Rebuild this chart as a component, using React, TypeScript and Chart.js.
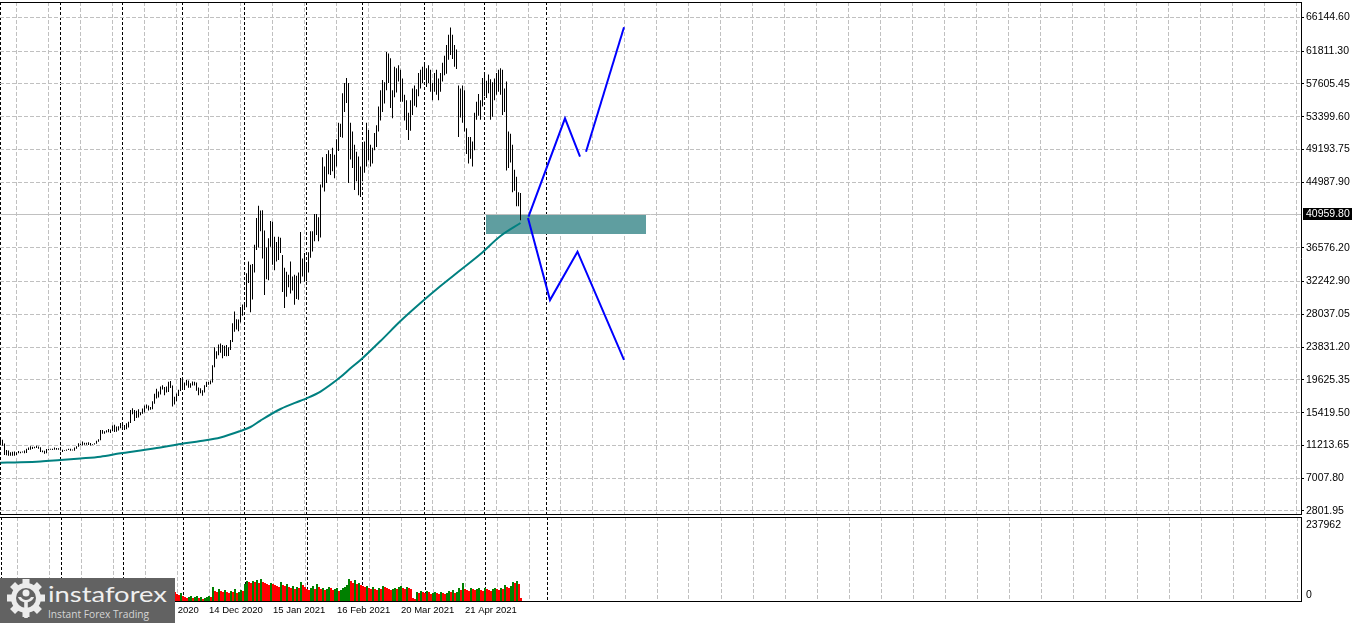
import React, { useEffect, useRef } from "react";
import { Chart, registerables } from "chart.js";

Chart.register(...registerables);

// ---------- DATA (BTC daily bars from 1 Sep 2020, index 0 = 1 Sep 2020) ----------
const barHigh = [
  // Sep 2020
  12067, 11950, 11450, 10630, 10570, 10350, 10400, 10440, 10350, 10500,
  10400, 10450, 10580, 10800, 10940, 11100, 11050, 11050, 11170, 11080,
  10990, 10580, 10530, 10770, 10760, 10790, 10800, 10950, 10880, 10840,
  // Oct 2020
  10950, 10650, 10600, 10690, 10800, 10800, 10680, 10950, 11100, 11490,
  11440, 11730, 11550, 11550, 11620, 11540, 11400, 11500, 11800, 12000,
  13200, 13200, 13030, 13150, 13330, 13250, 13780, 13860, 13630, 13670, 14100,
  // Nov 2020
  13890, 13830, 14070, 14250, 15750, 15970, 15770, 15670, 15850, 15480,
  15960, 16340, 16480, 16330, 16150, 16880, 17860, 18480, 18120, 18790,
  18950, 18700, 18780, 19400, 19470, 18900, 17450, 17880, 18350, 19860,
  // Dec 2020
  19920, 19300, 19600, 19550, 19180, 19420, 19400, 19300, 18640, 18560,
  18280, 18950, 19400, 19350, 19550, 21500, 23800, 23300, 24170, 24300,
  24100, 24000, 24100, 23800, 24750, 26880, 28400, 27400, 27380, 28990, 29300,
  // Jan 2021
  29600, 33300, 34800, 34400, 34500, 36950, 40400, 41950, 41350, 41400,
  38800, 36600, 37800, 40000, 39900, 38000, 37300, 38000, 37850, 35650,
  34000, 33500, 33100, 34800, 32900, 33100, 33000, 33400, 38600, 35200, 35900,
  // Feb 2021
  34700, 36000, 38700, 38700, 40900, 40900, 40500, 44700, 48200, 47000,
  48600, 49100, 48600, 49400, 48500, 50500, 52600, 52500, 56400, 57700,
  58350, 57700, 52600, 51500, 49800, 48900, 48300, 47000,
  // Mar 2021
  49800, 50200, 52600, 51700, 49800, 49400, 51300, 52300, 54700, 56800,
  58100, 57800, 61700, 61500, 60900, 56800, 59800, 59600, 60000, 59400,
  58300, 56200, 55500, 53900, 55500, 57000, 57400, 56900, 59000, 59400, 59800,
  // Apr 2021
  60200, 59600, 60000, 59400, 57700, 59000, 59400, 58300, 59000, 60300,
  61200, 62600, 63900, 64850, 63900, 62600, 62000, 57400, 57000, 57400,
  56800, 51900, 50800, 50800, 50200, 53900, 55300, 56300, 55500, 58350,
  // May 2021
  59000, 58000, 58800, 58200, 57800, 58300, 59000, 59400, 59600, 59400,
  57000, 57900, 51500, 51200, 49800, 46600, 45700, 43700, 43600,
];

const barLow = [
  // Sep 2020
  11530, 11160, 10000, 9950, 9880, 9880, 9880, 9880, 10000, 10200,
  10200, 10300, 10200, 10250, 10620, 10660, 10750, 10850, 10890, 10800,
  10370, 10350, 10140, 10200, 10590, 10650, 10630, 10660, 10650, 10650,
  // Oct 2020
  10560, 10370, 10500, 10530, 10640, 10540, 10550, 10530, 10800, 11050,
  11280, 11220, 11300, 11300, 11270, 11220, 11300, 11340, 11420, 11680,
  11890, 12700, 12720, 12880, 12900, 12800, 13050, 12950, 12980, 13130, 13420,
  // Nov 2020
  13620, 13200, 13300, 13530, 14080, 15200, 14350, 14720, 14800, 15080,
  15280, 15430, 15960, 15700, 15800, 15870, 16560, 17230, 17370, 17740,
  18400, 17650, 18000, 18080, 18570, 16200, 16450, 16880, 17550, 18200,
  // Dec 2020
  18330, 18330, 18900, 18600, 18600, 18900, 18910, 18230, 17650, 17900,
  17600, 18000, 18700, 19000, 19050, 19300, 21250, 22350, 22800, 23100,
  22400, 22700, 22650, 22700, 23450, 24500, 25800, 26100, 25850, 27000, 27850,
  // Jan 2021
  28800, 28950, 32050, 28300, 29950, 33400, 36300, 36600, 38700, 35200,
  30500, 32550, 32400, 36700, 34400, 33700, 34800, 35000, 35900, 30900,
  28850, 30300, 31500, 30700, 31100, 29250, 30000, 29900, 32000, 32900, 32200,
  // Feb 2021
  32300, 33400, 35300, 36100, 37400, 38200, 37400, 37900, 44300, 43800,
  44900, 46000, 45900, 46400, 45500, 47000, 49000, 50800, 50700, 54000,
  55150, 44900, 47900, 46800, 44000, 45100, 43300, 43100,
  // Mar 2021
  45100, 46200, 47000, 47800, 47000, 47400, 49100, 49500, 51500, 52900,
  54000, 55100, 56800, 57700, 54500, 53200, 55900, 56500, 57900, 55300,
  55300, 52900, 51700, 50400, 51600, 53600, 54800, 54600, 56000, 57000, 57700,
  // Apr 2021
  58300, 57200, 57700, 56600, 55500, 56600, 56200, 55500, 56600, 57900,
  58700, 58900, 60700, 61300, 60800, 59800, 59500, 50800, 53300, 52600,
  51500, 48600, 47400, 48000, 47000, 49100, 53000, 53500, 53000, 54700,
  // May 2021
  56000, 55800, 56400, 53000, 53400, 55500, 56200, 56600, 56200, 53600,
  54000, 46500, 46800, 47500, 43700, 43900, 41900, 41900, 40100,
];

const volumes = [
  // Sep 2020
  28000, 26000, 35000, 42000, 30000, 25000, 20000, 24000, 19000, 17000,
  16000, 12000, 14000, 18000, 17000, 19000, 18000, 15000, 13000, 14000,
  22000, 18000, 17000, 19000, 15000, 11000, 12000, 16000, 15000, 14000,
  // Oct 2020
  20000, 22000, 12000, 11000, 14000, 15000, 14000, 17000, 19000, 15000,
  11000, 16000, 14000, 13000, 15000, 14000, 10000, 11000, 15000, 18000,
  35000, 30000, 22000, 16000, 17000, 19000, 24000, 26000, 20000, 18000, 19000,
  // Nov 2020
  14000, 20000, 21000, 22000, 33000, 34000, 27000, 18000, 25000, 19000,
  20000, 22000, 18000, 13000, 15000, 20000, 28000, 34000, 28000, 24000,
  20000, 22000, 24000, 28000, 26000, 40000, 25500, 19800, 17000, 22700,
  // Dec 2020
  14200, 11300, 8500, 11300, 14200, 8500, 11300, 14200, 8500, 11300,
  5700, 8500, 11300, 14200, 11300, 39600, 28300, 25500, 34000, 28300,
  25500, 31100, 25500, 22600, 28300, 25500, 34000, 22600, 25500, 31100, 28300,
  // Jan 2021
  48100, 56600, 53800, 50900, 56600, 53800, 59400, 50900, 62300, 53800,
  50900, 48100, 45300, 50900, 48100, 45300, 42500, 39600, 53800, 45300,
  42500, 48100, 39600, 36800, 42500, 34000, 39600, 36800, 53800, 45300, 39600,
  // Feb 2021
  34000, 31100, 36800, 42500, 34000, 48100, 39600, 34000, 36800, 31100,
  34000, 39600, 36800, 31100, 34000, 36800, 28300, 31100, 36800, 39600,
  45300, 62300, 56600, 50900, 59400, 48100, 50900, 45300,
  // Mar 2021
  42500, 39600, 42500, 36800, 34000, 39600, 34000, 31100, 36800, 34000,
  42500, 39600, 36800, 34000, 31100, 34000, 36800, 34000, 39600, 42500,
  36800, 34000, 39600, 36800, 34000, 8500, 5700, 25500, 22600, 28300, 25500,
  // Apr 2021
  22600, 28300, 25500, 19800, 22600, 25500, 22600, 19800, 25500, 22600,
  19800, 22600, 28300, 25500, 31100, 22600, 25500, 36800, 31100, 50900,
  34000, 31100, 28300, 36800, 34000, 31100, 34000, 36800, 31100, 28300,
  // May 2021
  36800, 34000, 31100, 28300, 34000, 36800, 34000, 31100, 36800, 34000,
  45300, 39600, 36800, 42500, 53800, 50900, 56600, 48100, 8500,
];

// Moving average (read at sample bars)
const maIndex = [0, 10, 20, 30, 40, 50, 60, 70, 80, 90, 100, 110, 120, 125, 130, 140, 150, 153, 160, 170, 175, 180, 190, 200, 210, 220, 230, 240, 250, 260];
const maValue = [9000, 9050, 9150, 9345, 9540, 9770, 10200, 10560, 10950, 11400, 11780, 12230, 13070, 13580, 14410, 15890, 16950, 17260, 18130, 19990, 21110, 22170, 24610, 27180, 29490, 31670, 33720, 35780, 38090, 39750];

// Projection lines (bar index, price)
const upLeg = [{ x: 264, y: 40560 }, { x: 282.25, y: 53180 }, { x: 289.75, y: 48260 }];
const upLeg2 = [{ x: 292.75, y: 48900 }, { x: 311.75, y: 64860 }];
const downLeg = [{ x: 263.75, y: 40390 }, { x: 274.75, y: 29870 }, { x: 288.5, y: 36070 }, { x: 311.75, y: 22180 }];

// Support zone: [startIndex, endIndex, topPrice, bottomPrice]
const zoneBox = [242.75, 322.75, 40780, 38340];

const priceTicks = [66144.6, 61811.3, 57605.45, 53399.6, 49193.75, 44987.9, 36576.2, 32242.9, 28037.05, 23831.2, 19625.35, 15419.5, 11213.65, 7007.8, 2801.95];
const lastPrice = 40959.8;
const volumeMax = 237962;

const monthStarts = [0, 30, 61, 91, 122, 153, 181, 212, 242, 273];
const dateTickIndex = [8, 40, 72, 104, 136, 168, 200, 232];
const dateTickLabels = ["9 Sep 2020", "11 Oct 2020", "12 Nov 2020", "14 Dec 2020", "15 Jan 2021", "16 Feb 2021", "20 Mar 2021", "21 Apr 2021"];

// ---------- layout constants ----------
const W = 1353;
const PRICE_MIN = 2417;
const PRICE_MAX = 68107;
const X_MIN = -0.25;
const X_MAX = 650.25;
const AXIS_W = 52;
const gridIndex = Array.from({ length: 41 }, (_, k) => 8 + 16 * k);
const FONT = { family: "'Liberation Sans', Arial, sans-serif", size: 10.5 };
const DATE_FONT = { family: "'Liberation Sans', Arial, sans-serif", size: 9.5 };
const GRID = "#c0c0c0";

const fixedX = (ids: number[]) => (s: any) => {
  s.ticks = ids.map((v) => ({ value: v }));
};

const mainDecor = {
  id: "mainDecor",
  beforeDatasetsDraw(chart: any) {
    const { ctx, chartArea: a, scales } = chart;
    const xs = scales.x, ys = scales.y;
    ctx.save();
    const py = Math.round(ys.getPixelForValue(lastPrice)) + 0.5;
    ctx.strokeStyle = GRID;
    ctx.lineWidth = 1;
    ctx.beginPath();
    ctx.moveTo(a.left, py);
    ctx.lineTo(a.right, py);
    ctx.stroke();
    const x1 = Math.round(xs.getPixelForValue(zoneBox[0]));
    const x2 = Math.round(xs.getPixelForValue(zoneBox[1]));
    const y1 = Math.round(ys.getPixelForValue(zoneBox[2]));
    const y2 = Math.round(ys.getPixelForValue(zoneBox[3]));
    ctx.fillStyle = "#5f9ea0";
    ctx.fillRect(x1, y1, x2 - x1, y2 - y1);
    ctx.restore();
  },
  afterDraw(chart: any) {
    const { ctx, chartArea: a, scales } = chart;
    ctx.save();
    ctx.fillStyle = "#000";
    ctx.fillRect(a.left, a.top, a.right - a.left + 1, 1);
    ctx.fillRect(a.left, a.bottom, a.right - a.left + 1, 1);
    const py = Math.round(scales.y.getPixelForValue(lastPrice));
    ctx.fillRect(a.right + 2, py - 6, W - a.right - 3, 12);
    ctx.fillStyle = "#fff";
    ctx.font = `${FONT.size}px ${FONT.family}`;
    ctx.textBaseline = "middle";
    ctx.textAlign = "left";
    ctx.fillText(lastPrice.toFixed(2), a.right + 5, py);
    ctx.restore();
  },
};

const volDecor = {
  id: "volDecor",
  afterDraw(chart: any) {
    const { ctx, chartArea: a, scales } = chart;
    ctx.save();
    ctx.fillStyle = "#000";
    ctx.fillRect(a.left, a.top, a.right - a.left + 1, 1);
    ctx.fillRect(a.left, a.bottom, a.right - a.left + 1, 1);
    ctx.font = `${FONT.size}px ${FONT.family}`;
    ctx.textBaseline = "middle";
    ctx.textAlign = "left";
    ctx.fillText(String(volumeMax), a.right + 5, scales.y.getPixelForValue(volumeMax) + 8);
    ctx.fillText("0", a.right + 5, scales.y.getPixelForValue(0) - 6);
    ctx.restore();
  },
};

function sepAxis(min: number, max: number) {
  return {
    type: "linear",
    position: "bottom",
    min,
    max,
    offset: false,
    ticks: { display: false },
    grid: { color: "#000", drawTicks: false, offset: false, lineWidth: 1 },
    border: { display: false, dash: [3, 2] },
    afterBuildTicks: fixedX(monthStarts),
  };
}

function mainConfig(): any {
  return {
    type: "bar",
    data: {
      datasets: [
        { type: "line", label: "up", data: upLeg, borderColor: "#0000ff", borderWidth: 2, pointRadius: 0, order: 1 },
        { type: "line", label: "up2", data: upLeg2, borderColor: "#0000ff", borderWidth: 2, pointRadius: 0, order: 1 },
        { type: "line", label: "down", data: downLeg, borderColor: "#0000ff", borderWidth: 2, pointRadius: 0, order: 1 },
        {
          type: "line",
          label: "MA",
          data: maIndex.map((x, k) => ({ x, y: maValue[k] })),
          borderColor: "#008080",
          borderWidth: 2,
          pointRadius: 0,
          cubicInterpolationMode: "monotone",
          order: 2,
        },
        {
          type: "bar",
          label: "BTCUSD",
          data: barHigh.map((h, i) => ({ x: i, y: [barLow[i], h] })),
          backgroundColor: "#000",
          borderWidth: 0,
          barThickness: 1,
          inflateAmount: 0,
          grouped: false,
          order: 3,
        },
      ],
    },
    options: {
      animation: false,
      responsive: false,
      events: [],
      layout: { padding: { top: 2, bottom: 2, left: 0, right: 0 } },
      plugins: { legend: { display: false }, tooltip: { enabled: false } },
      scales: {
        x: {
          type: "linear",
          position: "bottom",
          min: X_MIN,
          max: X_MAX,
          offset: false,
          ticks: { display: false },
          grid: { color: GRID, drawTicks: false, offset: false },
          border: { display: false, dash: [4, 2] },
          afterBuildTicks: fixedX(gridIndex),
        },
        xs: sepAxis(X_MIN, X_MAX),
        y: {
          type: "linear",
          position: "right",
          min: PRICE_MIN,
          max: PRICE_MAX,
          ticks: {
            font: FONT,
            color: "#000",
            padding: 2,
            autoSkip: false,
            callback: (v: any) => Number(v).toFixed(2),
          },
          grid: { color: GRID, tickColor: "#000", tickLength: 3, tickBorderDash: [] },
          border: { display: true, color: "#000", dash: [4, 2] },
          afterBuildTicks: (s: any) => {
            s.ticks = priceTicks.map((v) => ({ value: v }));
          },
          afterFit: (s: any) => {
            s.width = AXIS_W;
            s.paddingTop = 0;
            s.paddingBottom = 0;
          },
        },
      },
    },
    plugins: [mainDecor],
  };
}

function volConfig(): any {
  const vMin = -0.5;
  const vMax = 650;
  return {
    type: "bar",
    data: {
      datasets: [
        {
          label: "Volumes",
          data: volumes.map((v, i) => ({ x: i, y: v })),
          backgroundColor: volumes.map((v, i) => (i > 0 && v > volumes[i - 1] ? "#008000" : "#ff0000")),
          borderWidth: 0,
          barThickness: 2,
          inflateAmount: 0,
          grouped: false,
        },
      ],
    },
    options: {
      animation: false,
      responsive: false,
      events: [],
      layout: { padding: { top: 2, bottom: 0, left: 0, right: 0 } },
      plugins: { legend: { display: false }, tooltip: { enabled: false } },
      scales: {
        x: {
          type: "linear",
          position: "bottom",
          min: vMin,
          max: vMax,
          offset: false,
          ticks: {
            display: true,
            font: DATE_FONT,
            color: "#000",
            align: "start",
            autoSkip: false,
            maxRotation: 0,
            minRotation: 0,
            padding: 4,
            callback: (v: any) => {
              const k = dateTickIndex.indexOf(Number(v));
              return k >= 0 ? dateTickLabels[k] : "";
            },
          },
          grid: { color: GRID, drawTicks: false, offset: false },
          border: { display: false, dash: [4, 2] },
          afterBuildTicks: fixedX(gridIndex),
          afterFit: (s: any) => {
            s.height = 22;
            s.paddingLeft = 0;
            s.paddingRight = 0;
          },
        },
        xs: sepAxis(vMin, vMax),
        y: {
          type: "linear",
          position: "right",
          min: 0,
          max: volumeMax,
          ticks: { display: false },
          grid: { display: false },
          border: { display: true, color: "#000" },
          afterFit: (s: any) => {
            s.width = AXIS_W;
            s.paddingTop = 0;
            s.paddingBottom = 0;
          },
        },
      },
    },
    plugins: [volDecor],
  };
}

function Logo() {
  const teeth = [0, 45, 90, 135, 180, 225, 270, 315];
  const bg = "#626262";
  return (
    <div style={{ position: "absolute", left: 0, top: 578, width: 175, height: 45, background: bg }}>
      <svg width={175} height={45} style={{ display: "block" }}>
        <g transform="translate(26,20)" fill="#ececec">
          {teeth.map((a) => (
            <rect key={a} x={-3.5} y={-19} width={7} height={7} transform={`rotate(${a})`} />
          ))}
          <circle r={15} />
          <circle r={10} fill={bg} />
          <circle cx={0} cy={-5} r={3.5} />
          <path d="M-8,-1 C-6,6 6,6 8,-1 L5,-1 C3,3 -3,3 -5,-1 Z" />
          <rect x={-1.8} y={3} width={3.6} height={17} />
        </g>
        <text
          x={48}
          y={23.5}
          fontSize={22}
          fontFamily="Lato, 'Open Sans', sans-serif"
          fill="#efefef"
          textLength={119}
          lengthAdjust="spacingAndGlyphs"
        >
          instaforex
        </text>
        <text
          x={48}
          y={40}
          fontSize={11.5}
          fontFamily="'Open Sans', Arial, sans-serif"
          fill="#d6d6d6"
          textLength={101}
          lengthAdjust="spacingAndGlyphs"
        >
          Instant Forex Trading
        </text>
      </svg>
    </div>
  );
}

export default function App() {
  const mainRef = useRef<HTMLCanvasElement>(null);
  const volRef = useRef<HTMLCanvasElement>(null);

  useEffect(() => {
    const c1 = new Chart(mainRef.current as HTMLCanvasElement, mainConfig());
    const c2 = new Chart(volRef.current as HTMLCanvasElement, volConfig());
    return () => {
      c1.destroy();
      c2.destroy();
    };
  }, []);

  return (
    <div
      style={{
        position: "fixed",
        left: 0,
        top: 0,
        width: W,
        height: 623,
        background: "#fff",
        overflow: "hidden",
      }}
    >
      <canvas ref={mainRef} width={W} height={516} style={{ position: "absolute", left: 0, top: 0 }} />
      <canvas ref={volRef} width={W} height={108} style={{ position: "absolute", left: 0, top: 515 }} />
      <Logo />
    </div>
  );
}
